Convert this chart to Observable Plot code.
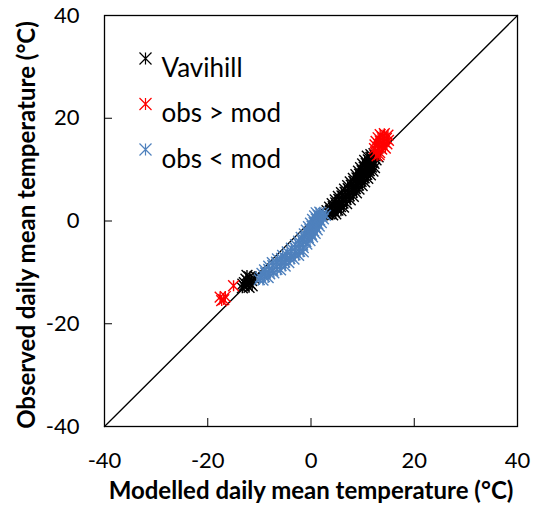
<!DOCTYPE html>
<html>
<head>
<meta charset="utf-8">
<script src="https://cdn.jsdelivr.net/npm/d3@7"></script>
<script src="https://cdn.jsdelivr.net/npm/@observablehq/plot@0.6"></script>
<style>
  body { margin: 0; background: #fff; }
  #chart { width: 536px; height: 517px; }
</style>
</head>
<body>
<div id="chart"></div>
<script>
// ---- Chart data ----
const xTicks = [-40, -20, 0, 20, 40];
const yTicks = [-40, -20, 0, 20, 40];
const xTitle = "Modelled daily mean temperature (°C)";
const yTitle = "Observed daily mean temperature (°C)";
const seriesNames = ["Vavihill", "obs > mod", "obs < mod"];
const seriesColors = ["#000000", "#FF0000", "#4F81BD"];

// 1:1 reference line
const oneToOne = [[-40, -40], [40, 40]];

// [modelled, observed] pairs
const vavihill = [
  [11.6,12.9],[12.2,13.1],
  [10.9,12.6],[11.6,12.4],[12.4,12.7],[13.0,12.5],
  [10.4,11.8],[11.1,11.9],[11.8,11.7],[12.6,11.9],
  [10.0,11.1],[10.7,11.2],[11.4,11.0],[12.2,11.2],
  [9.6,10.4],[10.3,10.5],[11.0,10.3],[11.7,10.5],[12.3,10.4],
  [9.2,9.7],[9.9,9.8],[10.6,9.6],[11.3,9.8],[12.0,9.7],
  [8.7,9.0],[9.4,9.1],[10.1,8.9],[10.8,9.1],[11.5,9.0],
  [8.2,8.3],[8.9,8.4],[9.6,8.2],[10.3,8.4],[11.0,8.3],
  [7.6,7.6],[8.3,7.7],[9.0,7.5],[9.7,7.7],[10.4,7.6],
  [7.1,6.9],[7.8,7.0],[8.5,6.8],[9.2,7.0],[9.9,6.9],
  [6.5,6.2],[7.2,6.3],[7.9,6.1],[8.6,6.3],[9.3,6.2],
  [5.9,5.5],[6.6,5.6],[7.3,5.4],[8.0,5.6],[8.8,5.5],
  [5.3,4.8],[6.0,4.9],[6.7,4.7],[7.4,4.9],[8.2,4.8],
  [4.7,4.1],[5.4,4.2],[6.1,4.0],[6.8,4.2],[7.6,4.1],
  [4.1,3.4],[4.8,3.5],[5.5,3.3],[6.2,3.5],[6.9,3.4],
  [3.6,2.7],[4.3,2.8],[5.0,2.6],[5.7,2.8],[6.3,2.7],
  [3.1,2.0],[3.8,2.1],[4.5,1.9],[5.2,2.1],[5.8,2.0],
  [3.0,1.3],[3.6,1.4],[4.2,1.2],[4.8,1.4],
  [-13.3,-13.0],[-13.0,-12.6],[-12.4,-12.5],[-11.8,-12.2],[-12.9,-12.0],
  [-12.2,-11.7],[-11.5,-11.6],[-11.0,-11.2],[-12.6,-11.3],[-11.9,-10.9],
  [-13.2,-12.3],[-11.4,-12.6],[-12.0,-12.9],[-10.7,-10.8],[-12.4,-10.6]
];

const obsAboveMod = [
  [13.4,16.8],[14.2,17.0],[14.9,16.7],
  [13.0,16.2],[13.8,16.3],[14.6,16.1],
  [12.6,15.5],[13.4,15.6],[14.2,15.4],[15.0,15.7],
  [12.4,14.8],[13.1,14.9],[13.9,14.7],[14.7,15.0],
  [12.3,14.1],[13.0,14.2],[13.7,14.0],[14.4,14.2],
  [12.5,13.4],[13.3,13.3],
  [12.8,12.7],[13.2,12.9],
  [-17.6,-14.8],[-16.9,-15.3],[-16.6,-14.7],[-17.3,-15.5],[-15.0,-12.6]
];

const obsBelowMod = [
  [1.0,1.6],[1.7,1.7],[2.4,1.5],
  [0.7,1.0],[1.4,1.1],[2.1,0.9],[2.8,1.1],
  [0.3,0.3],[1.0,0.4],[1.7,0.2],[2.4,0.4],
  [-0.1,-0.4],[0.6,-0.3],[1.3,-0.5],[2.0,-0.3],
  [-0.5,-1.1],[0.2,-1.0],[0.9,-1.2],[1.6,-1.0],
  [-0.9,-1.8],[-0.2,-1.7],[0.5,-1.9],[1.2,-1.7],
  [-1.3,-2.5],[-0.6,-2.4],[0.1,-2.6],[0.8,-2.4],
  [-1.9,-3.2],[-1.2,-3.1],[-0.5,-3.3],[0.3,-3.1],
  [-2.4,-3.9],[-1.7,-3.8],[-1.0,-4.0],[-0.2,-3.8],
  [-3.0,-4.6],[-2.3,-4.5],[-1.6,-4.7],[-0.8,-4.5],
  [-3.8,-5.3],[-3.1,-5.2],[-2.3,-5.4],[-1.5,-5.2],
  [-4.6,-6.0],[-3.8,-5.9],[-3.0,-6.1],[-2.2,-5.9],[-1.5,-6.0],
  [-5.5,-6.7],[-4.7,-6.6],[-3.9,-6.8],[-3.1,-6.6],[-2.4,-6.7],
  [-6.5,-7.4],[-5.7,-7.3],[-4.9,-7.5],[-4.1,-7.3],[-3.3,-7.4],
  [-7.5,-8.1],[-6.7,-8.0],[-5.9,-8.2],[-5.1,-8.0],[-4.3,-8.1],
  [-8.2,-8.8],[-7.4,-8.7],[-6.6,-8.9],[-5.8,-8.7],[-5.0,-8.8],
  [-9.0,-9.5],[-8.2,-9.4],[-7.4,-9.6],[-6.6,-9.4],[-5.9,-9.5],
  [-9.5,-10.2],[-8.8,-10.1],[-8.0,-10.3],[-7.2,-10.1],
  [-9.8,-10.9],[-9.0,-10.8],[-8.3,-11.0],
  [-10.0,-11.4],[-9.3,-11.5]
];

const seriesData = [vavihill, obsAboveMod, obsBelowMod];

// Excel-like "star" marker: X plus vertical bar
const star = {
  draw(ctx, size) {
    const r = Math.sqrt(size / Math.PI);
    ctx.moveTo(-r, -r); ctx.lineTo(r, r);
    ctx.moveTo(-r, r); ctx.lineTo(r, -r);
    ctx.moveTo(0, -r); ctx.lineTo(0, r);
  }
};

const FONT = "Lato, 'Open Sans', sans-serif";

const marks = [
  Plot.line(oneToOne, {x: d => d[0], y: d => d[1], stroke: "black", strokeWidth: 1.3}),
  ...seriesData.map((data, i) =>
    Plot.dot(data, {x: d => d[0], y: d => d[1], symbol: star, r: 5.4,
      stroke: seriesColors[i], fill: "none", strokeWidth: 1.4})),
  Plot.frame({stroke: "black", strokeWidth: 1.3}),
  Plot.axisX({ticks: xTicks, tickSize: -8, tickPadding: 34, tickFormat: d => String(d),
    label: null, fontSize: 22, stroke: "black"}),
  Plot.axisY({ticks: yTicks, tickSize: -8, tickPadding: 33, tickFormat: d => String(d),
    label: null, fontSize: 22, stroke: "black"}),
  Plot.text([xTitle], {frameAnchor: "bottom", dy: 72, text: d => d,
    fontSize: 24, fontWeight: "bold", fill: "black"}),
  Plot.text([yTitle], {frameAnchor: "left", dx: -77, dy: 4, rotate: -90, text: d => d,
    textAnchor: "middle", fontSize: 24, fontWeight: "bold", fill: "black"}),
  ...seriesNames.map((name, i) =>
    Plot.dot([name], {frameAnchor: "top-left", dx: 41, dy: 43 + i * 45.5, symbol: star, r: 6,
      stroke: seriesColors[i], fill: "none", strokeWidth: 1.2})),
  ...seriesNames.map((name, i) =>
    Plot.text([name], {frameAnchor: "top-left", dx: 57, dy: 43 + i * 45.5, text: d => d,
      textAnchor: "start", fontSize: 26, fill: "black"}))
];

const chart = Plot.plot({
  width: 536,
  height: 517,
  marginLeft: 104,
  marginRight: 19,
  marginTop: 15,
  marginBottom: 91,
  x: {domain: [-40, 40]},
  y: {domain: [-40, 40]},
  style: {fontFamily: FONT, fontSize: "22px", color: "black", background: "white", overflow: "visible"},
  marks
});
document.getElementById("chart").appendChild(chart);
</script>
</body>
</html>
